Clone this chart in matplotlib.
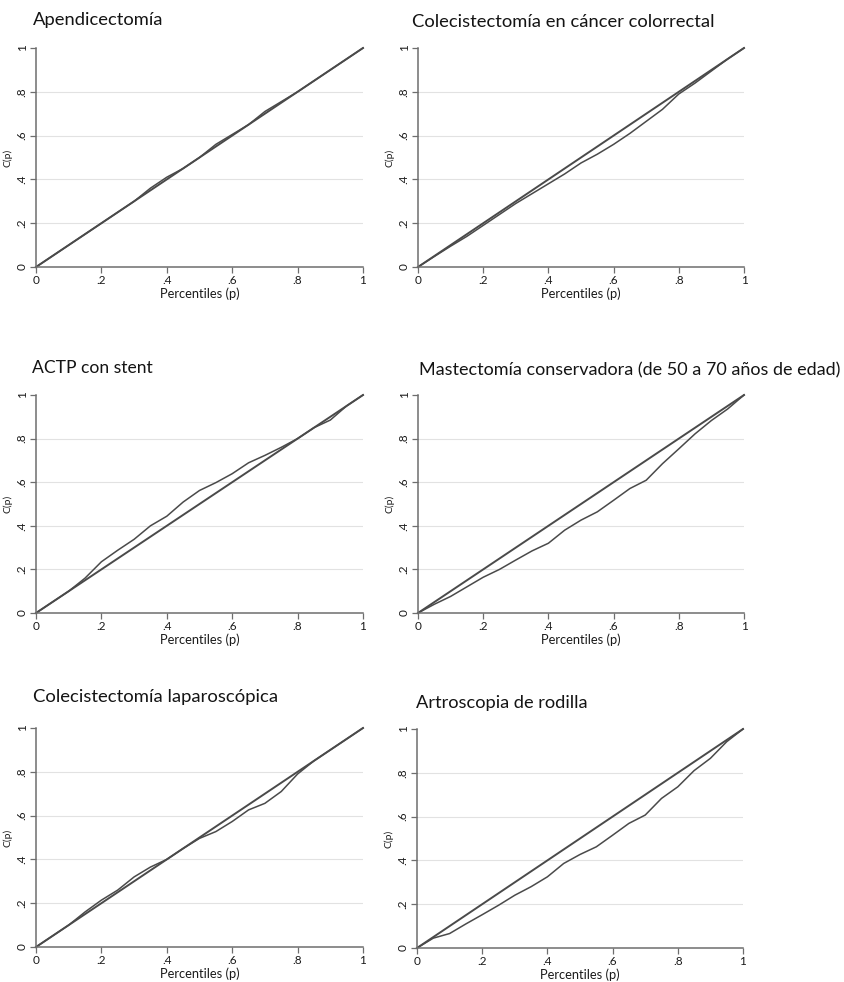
import matplotlib
matplotlib.use('Agg')
import matplotlib.pyplot as plt

plt.rcParams['font.family'] = ['Lato', 'DejaVu Sans']

# percentiles (p)
p = [0, .05, .1, .15, .2, .25, .3, .35, .4, .45, .5, .55, .6, .65, .7, .75, .8, .85, .9, .95, 1]

# C(p) curves
apendicectomia = [0, .05, .10, .15, .20, .25, .30, .36, .41, .45, .50, .56, .605, .65, .71, .755, .80, .85, .90, .95, 1]
colecist_cancer = [0, .048, .095, .14, .19, .24, .29, .335, .38, .425, .475, .515, .56, .61, .665, .72, .79, .84, .895, .95, 1]
actp_stent = [0, .05, .10, .16, .235, .288, .338, .40, .444, .509, .562, .598, .639, .689, .723, .76, .80, .85, .885, .95, 1]
mastectomia = [0, .04, .076, .12, .164, .20, .243, .285, .32, .38, .426, .464, .517, .571, .609, .685, .753, .822, .883, .936, 1]
colecist_lap = [0, .05, .10, .16, .214, .26, .32, .365, .40, .45, .496, .527, .573, .626, .656, .71, .79, .85, .90, .95, 1]
artroscopia = [0, .045, .066, .11, .152, .195, .241, .28, .325, .386, .427, .462, .515, .569, .607, .683, .736, .81, .866, .942, 1]

titles = ['Apendicectomía', 'Colecistectomía en cáncer colorrectal',
          'ACTP con stent', 'Mastectomía conservadora (de 50 a 70 años de edad)',
          'Colecistectomía laparoscópica', 'Artroscopia de rodilla']
series = [apendicectomia, colecist_cancer, actp_stent, mastectomia, colecist_lap, artroscopia]

ticks = [0, .2, .4, .6, .8, 1]
ticklabels = ['0', '.2', '.4', '.6', '.8', '1']

W, H = 844, 982
fig = plt.figure(figsize=(W / 100, H / 100), dpi=100)

# axes boxes in pixels: (x0, x1, ytop, ybottom)
boxes = [(36, 363, 48, 267), (418, 744, 48, 267),
         (36, 363, 395, 613), (418, 744, 395, 613),
         (36, 363, 728, 947), (417, 743, 729, 948)]
title_pos = [(33, 20), (412, 22), (32, 368), (419, 370), (33, 697), (416, 703)]
title_w = [130, 301, 121, 421, 244, 172]  # width of each title in the reference, px

line_c = '#4a4a4a'
txts = []
for i in range(6):
    x0, x1, yt, yb = boxes[i]
    ax = fig.add_axes([x0 / W, 1 - yb / H, (x1 - x0) / W, (yb - yt) / H])
    ax.set_xlim(0, 1)
    ax.set_ylim(0, 1)
    ax.plot([0, 1], [0, 1], color=line_c, lw=1.4, clip_on=False)
    ax.plot(p, series[i], color=line_c, lw=1.1, clip_on=False)
    for t in ticks[1:-1]:
        ax.axhline(t, color='#e2e2e2', lw=0.8, zorder=0)
    for s in ['top', 'right']:
        ax.spines[s].set_visible(False)
    for s in ['left', 'bottom']:
        ax.spines[s].set_color('#6e6e6e')
        ax.spines[s].set_linewidth(1.1)
    ax.set_xticks(ticks)
    ax.set_xticklabels(ticklabels)
    ax.set_yticks(ticks)
    ax.set_yticklabels(ticklabels, rotation=90, va='center')
    ax.tick_params(axis='both', length=4, width=0.9, color='#6e6e6e', labelsize=8.5,
                   labelcolor='#1a1a1a', pad=2)
    ax.set_xlabel('Percentiles (p)', fontsize=9.3, color='#1a1a1a', labelpad=1)
    ax.set_ylabel('C(p)', fontsize=7.5, color='#1a1a1a', labelpad=3)
    tx, ty = title_pos[i]
    txts.append(fig.text(tx / W, 1 - ty / H, titles[i], fontsize=13.5, color='#141414',
                         ha='left', va='center'))

# shrink/grow titles so they span the same width as in the reference
r = fig.canvas.get_renderer()
for t, w in zip(txts, title_w):
    bw = t.get_window_extent(r).width
    t.set_fontsize(13.5 * w / bw)

fig.savefig('out.png', dpi=100, facecolor='white')
